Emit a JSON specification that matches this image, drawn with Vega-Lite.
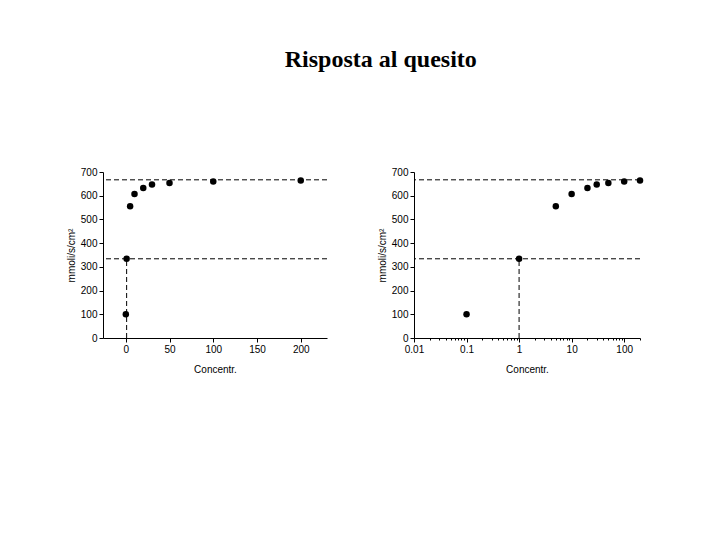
{
  "$schema": "https://vega.github.io/schema/vega-lite/v6.json",
  "background": "white",
  "padding": {"left": 66, "top": 48, "right": 0, "bottom": 0},
  "title": {"text": "Risposta al quesito", "font": "Liberation Serif", "fontSize": 24, "fontWeight": "bold", "color": "black", "anchor": "middle", "dx": 26, "offset": 95},
  "datasets": {
    "pts": [
      {"conc": 0.1, "v": 100},
      {"conc": 1, "v": 334},
      {"conc": 5, "v": 556},
      {"conc": 10, "v": 607},
      {"conc": 20, "v": 633},
      {"conc": 30, "v": 647},
      {"conc": 50, "v": 654},
      {"conc": 100, "v": 660},
      {"conc": 200, "v": 664}
    ],
    "hl": [{"y": 334}, {"y": 667}],
    "vl": [{"x": 1, "y0": 0, "y1": 334}]
  },
  "config": {
    "view": {"stroke": null},
    "axis": {"labelFont": "Liberation Sans", "titleFont": "Liberation Sans", "labelFontSize": 10, "titleFontSize": 10, "titleFontWeight": "normal", "labelColor": "black", "titleColor": "black", "domainColor": "black", "tickColor": "black", "grid": false, "tickSize": 4, "labelPadding": 2, "labelOverlap": false},
    "axisY": {"values": [0, 100, 200, 300, 400, 500, 600, 700], "tickCount": 8, "titlePadding": 4}
  },
  "hconcat": [
    {
      "width": 224, "height": 166,
      "layer": [
        {
          "data": {"name": "hl"},
          "mark": {"type": "rule", "strokeDash": [5, 3], "color": "black", "strokeWidth": 1},
          "encoding": {"y": {"field": "y", "type": "quantitative", "title": "mmoli/s/cm²",
              "scale": {"domain": [0, 700], "nice": false},
              "axis": {"values": [0, 100, 200, 300, 400, 500, 600, 700], "tickCount": 8}}}
        },
        {
          "data": {"name": "vl"},
          "mark": {"type": "rule", "strokeDash": [5, 3], "color": "black", "strokeWidth": 1},
          "encoding": {
            "x": {"field": "x", "type": "quantitative", "title": "Concentr.",
              "scale": {"domain": [-26, 230], "nice": false, "zero": false},
              "axis": {"values": [0, 25, 50, 75, 100, 125, 150, 175, 200, 225], "labelExpr": "datum.value % 50 == 0 ? datum.label : ''", "tickSize": {"condition": {"test": "datum.value % 50 == 0", "value": 4}, "value": 2}, "titlePadding": 10, "labelFlush": false}},
            "y": {"field": "y0", "type": "quantitative", "title": "mmoli/s/cm²", "axis": {"values": [0, 100, 200, 300, 400, 500, 600, 700], "tickCount": 8}}, "y2": {"field": "y1"}}
        },
        {
          "data": {"name": "pts"},
          "mark": {"type": "point", "filled": true, "shape": "circle", "size": 42, "color": "black", "opacity": 1},
          "encoding": {
            "x": {"field": "conc", "type": "quantitative", "title": "Concentr."},
            "y": {"field": "v", "type": "quantitative", "title": "mmoli/s/cm²", "axis": {"values": [0, 100, 200, 300, 400, 500, 600, 700], "tickCount": 8}}
          }
        }
      ]
    },
    {
      "width": 226, "height": 166,
      "layer": [
        {
          "data": {"name": "hl"},
          "mark": {"type": "rule", "strokeDash": [5, 3], "color": "black", "strokeWidth": 1},
          "encoding": {"y": {"field": "y", "type": "quantitative", "title": "mmoli/s/cm²",
              "scale": {"domain": [0, 700], "nice": false},
              "axis": {"values": [0, 100, 200, 300, 400, 500, 600, 700], "tickCount": 8}}}
        },
        {
          "data": {"name": "vl"},
          "mark": {"type": "rule", "strokeDash": [5, 3], "color": "black", "strokeWidth": 1},
          "encoding": {
            "x": {"field": "x", "type": "quantitative", "title": "Concentr.",
              "scale": {"type": "log", "domain": [0.01, 200], "nice": false},
              "axis": {"values": [0.01, 0.02, 0.03, 0.04, 0.05, 0.06, 0.07, 0.08, 0.09, 0.1, 0.2, 0.3, 0.4, 0.5, 0.6, 0.7, 0.8, 0.9, 1, 2, 3, 4, 5, 6, 7, 8, 9, 10, 20, 30, 40, 50, 60, 70, 80, 90, 100, 200],
                "labelExpr": "indexof(['0.01','0.1','1','10','100'], '' + datum.value) >= 0 ? '' + datum.value : ''",
                "tickSize": {"condition": {"test": "indexof([0.01, 0.1, 1, 10, 100], datum.value) >= 0", "value": 4}, "value": 2},
                "titlePadding": 10, "labelFlush": false}},
            "y": {"field": "y0", "type": "quantitative", "title": "mmoli/s/cm²", "axis": {"values": [0, 100, 200, 300, 400, 500, 600, 700], "tickCount": 8}}, "y2": {"field": "y1"}}
        },
        {
          "data": {"name": "pts"},
          "mark": {"type": "point", "filled": true, "shape": "circle", "size": 42, "color": "black", "opacity": 1},
          "encoding": {
            "x": {"field": "conc", "type": "quantitative", "title": "Concentr."},
            "y": {"field": "v", "type": "quantitative", "title": "mmoli/s/cm²", "axis": {"values": [0, 100, 200, 300, 400, 500, 600, 700], "tickCount": 8}}
          }
        }
      ]
    }
  ],
  "spacing": 49
}
